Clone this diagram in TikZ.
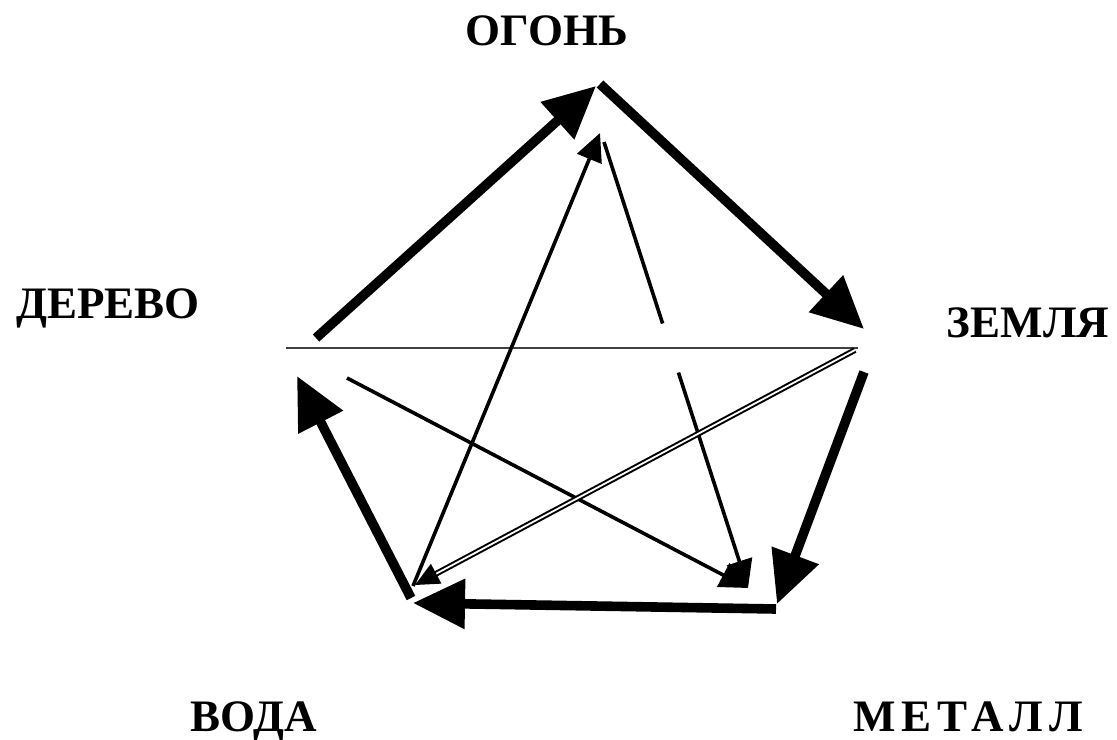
\documentclass[tikz,border=0pt]{standalone}
\usepackage{fontspec}
\setmainfont{Liberation Serif}
\usetikzlibrary{arrows.meta,calc}

\begin{document}
\begin{tikzpicture}[
  x=0.5pt, y=-0.5pt,
  element/.style={font=\fontsize{22.5}{26}\selectfont\bfseries, anchor=base, inner sep=0pt},
  feed/.style={line width=4.8pt, -{Triangle[length=26pt, width=24pt]}},
  curb/.style={line width=1.8pt, -{Triangle[length=14pt, width=13pt]}},
  hollow/.style={double, line width=1pt, double distance=0.9pt, -{Triangle[length=12pt, width=11pt]}},
  split/.style={line width=1.4pt, draw=black!75}
]
\fill[white] (0,0) rectangle (1117,739);
\useasboundingbox (0,0) rectangle (1117,739);

% elements
\node[element] (fire)  at (547,45)  {ОГОНЬ};
\node[element] (wood)  at (108,318) {ДЕРЕВО};
\node[element] (earth) at (1028,337) {ЗЕМЛЯ};
\node[element] (water) at (254,731) {ВОДА};
\node[element] (metal) at (968,731) {\addfontfeature{LetterSpace=13}МЕТАЛЛ};

% end points of the connectors
\coordinate (w1) at (316,338);
\coordinate (f1) at (596,86);
\coordinate (f2) at (600,84);
\coordinate (e1) at (864,329);
\coordinate (e2) at (864,372);
\coordinate (m1) at (777,604);
\coordinate (m2) at (776,609);
\coordinate (v1) at (413,603);
\coordinate (v2) at (411,598);
\coordinate (w2) at (297,376);

\coordinate (v3) at (413,586);
\coordinate (f3) at (600,133);
\coordinate (f4) at (604,142);
\coordinate (m3) at (748,588);
\coordinate (w3) at (347,378);
\coordinate (e3) at (855,350);
\coordinate (v4) at (415,585);
\coordinate (w4) at (286,348);
\coordinate (e4) at (858,348);

% generating cycle
\draw[feed] (w1) -- (f1);
\draw[feed] (f2) -- (e1);
\draw[feed] (e2) -- (m1);
\draw[feed] (m2) -- (v1);
\draw[feed] (v2) -- (w2);

% star
\draw[split] (w4) -- (e4);
\draw[curb] (v3) -- (f3);
\draw[curb, -] (f4) -- ($(f4)!0.407!(m3)$);
\draw[curb] ($(f4)!0.517!(m3)$) -- (m3);
\draw[curb] (w3) -- (m3);
\draw[hollow] (e3) -- (v4);
\end{tikzpicture}
\end{document}
